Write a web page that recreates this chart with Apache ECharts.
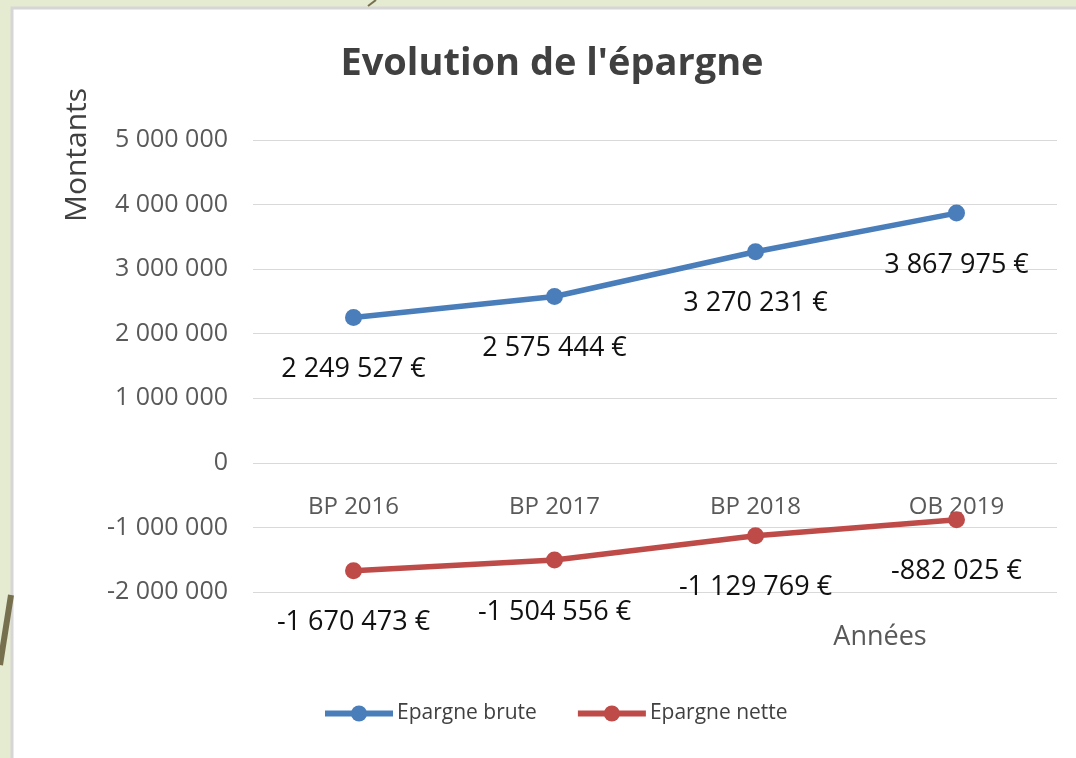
<!DOCTYPE html>
<html style="height: 100%">
<head>
    <meta charset="utf-8">
</head>
<body style="height: 100%; margin: 0;">
<div id="container" style="width: 1076px; height: 758px"></div>
<script type="text/javascript" src="https://cdn.jsdelivr.net/npm/echarts@6/dist/echarts.min.js"></script>
<script type="text/javascript">
    var annees = ['BP 2016', 'BP 2017', 'BP 2018', 'OB 2019'];
    var epargneBrute = [2249527, 2575444, 3270231, 3867975];
    var epargneNette = [-1670473, -1504556, -1129769, -882025];

    function espaces(v) {
        return String(v).replace(/\B(?=(\d{3})+(?!\d))/g, ' ');
    }

    var dom = document.getElementById("container");
    var myChart = echarts.init(dom);

    var labelStyle = {
        show: true,
        position: 'bottom',
        distance: 30,
        fontFamily: 'Open Sans',
        fontSize: 27,
        color: '#111',
        formatter: function (p) { return espaces(p.value) + ' €'; }
    };

    var option = {
        backgroundColor: '#e4ebd0',
        textStyle: { fontFamily: 'Open Sans' },
        title: {
            text: "Evolution de l'épargne",
            left: 547,
            textAlign: 'center',
            top: 40,
            textStyle: { fontFamily: 'Open Sans', fontWeight: 'bold', fontSize: 38, color: '#404040' }
        },
        graphic: [
            { type: 'rect', z: -10, shape: { x: 12, y: 8, width: 1080, height: 760 },
              style: { fill: '#fff', stroke: '#d6d6d6', lineWidth: 3 } },
            { type: 'line', z: -10, shape: { x1: 0, y1: 665, x2: 11, y2: 595 },
              style: { stroke: '#77704f', lineWidth: 6 } },
            { type: 'line', z: -10, shape: { x1: 368, y1: 6, x2: 376, y2: 0 },
              style: { stroke: '#77704f', lineWidth: 2 } },
            { type: 'text', x: 77, y: 155, rotation: Math.PI / 2,
              style: { text: 'Montants', fontFamily: 'Open Sans', fontSize: 30, fill: '#404040',
                       align: 'center', verticalAlign: 'middle' } },
            { type: 'text', x: 880, y: 637,
              style: { text: 'Années', fontFamily: 'Open Sans', fontSize: 27, fill: '#595959',
                       align: 'center', verticalAlign: 'middle' } }
        ],
        legend: {
            bottom: 29,
            left: 317,
            itemWidth: 68,
            itemHeight: 20,
            itemGap: 38,
            lineStyle: { width: 6 },
            textStyle: { fontFamily: 'Open Sans', fontSize: 21, color: '#404040', padding: [0, 0, 0, -1] },
            data: ['Epargne brute', 'Epargne nette']
        },
        grid: { left: 253, right: 19, top: 140, bottom: 166 },
        xAxis: {
            type: 'category',
            data: annees,
            position: 'bottom',
            offset: -129,
            axisLine: { show: false },
            axisTick: { show: false },
            axisLabel: { margin: 32, fontFamily: 'Open Sans', fontSize: 24, color: '#595959' }
        },
        yAxis: {
            type: 'value',
            min: -2000000,
            max: 5000000,
            interval: 1000000,
            axisLine: { show: false },
            axisTick: { show: false },
            splitLine: { lineStyle: { color: '#d9d9d9' } },
            axisLabel: { margin: 25, fontFamily: 'Open Sans', fontSize: 25, color: '#595959',
                         formatter: espaces }
        },
        series: [
            {
                name: 'Epargne brute',
                type: 'line',
                data: epargneBrute,
                symbol: 'circle',
                symbolSize: 17,
                lineStyle: { width: 5.5, color: '#4a7ebb' },
                itemStyle: { color: '#4a7ebb' },
                label: labelStyle
            },
            {
                name: 'Epargne nette',
                type: 'line',
                data: epargneNette,
                symbol: 'circle',
                symbolSize: 17,
                lineStyle: { width: 5.5, color: '#be4b48' },
                itemStyle: { color: '#be4b48' },
                label: labelStyle
            }
        ]
    };
    myChart.setOption(option);
</script>
</body>
</html>
